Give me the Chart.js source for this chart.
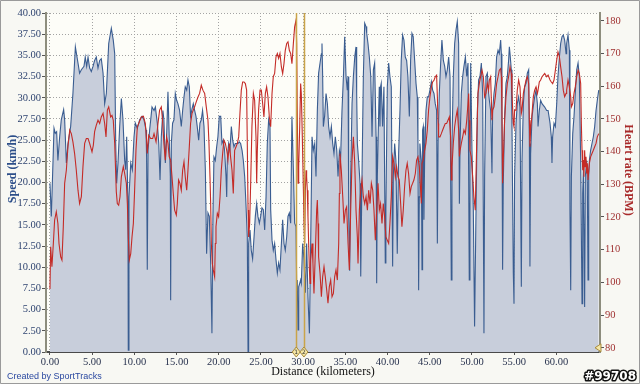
<!DOCTYPE html>
<html>
<head>
<meta charset="utf-8">
<script src="https://cdn.jsdelivr.net/npm/chart.js@4"></script>
<style>
html, body { margin: 0; padding: 0; background: #ffffff; }
#wrap { width: 640px; height: 384px; }
</style>
</head>
<body>
<div id="wrap"><canvas id="trackChart" width="640" height="384"></canvas></div>
<script>
// speed track (distance in km, speed in km/h)
var speedKm = [0, 0.16, 0.48, 0.63, 0.79, 0.94, 1.15, 1.34, 1.62, 1.74, 1.94, 2.13, 2.45, 2.72, 3.01, 3.32, 3.51, 3.72, 4.03, 4.18,
  4.35, 4.51, 4.70, 4.90, 5.10, 5.29, 5.49, 5.69, 5.89, 6.08, 6.29, 6.48, 6.68, 6.96, 7.27, 7.50, 7.67, 7.79, 7.90, 8.06,
  8.26, 8.46, 8.65, 8.85, 8.97, 9.09, 9.24, 9.28, 9.36, 9.57, 9.76, 9.96, 10.11, 10.35, 10.63, 10.91, 11.14, 11.38, 11.45, 11.53,
  11.62, 11.81, 12.09, 12.33, 12.49, 12.72, 12.89, 13.04, 13.19, 13.38, 13.50, 13.67, 13.82, 13.98, 14.13, 14.26, 14.30, 14.38, 14.53, 14.69,
  14.85, 15.01, 15.16, 15.36, 15.56, 15.72, 15.88, 16.03, 16.20, 16.35, 16.51, 16.66, 16.83, 16.98, 17.14, 17.30, 17.45, 17.62, 17.77, 17.93,
  18.08, 18.25, 18.41, 18.56, 18.72, 18.88, 19.04, 19.19, 19.31, 19.43, 19.59, 19.75, 19.90, 20.06, 20.23, 20.38, 20.54, 20.69, 20.86, 20.94,
  21.01, 21.17, 21.32, 21.49, 21.65, 21.80, 21.96, 22.12, 22.28, 22.43, 22.59, 22.76, 22.91, 23.07, 23.22, 23.38, 23.47, 23.54, 23.70, 23.85,
  24.01, 24.18, 24.33, 24.49, 24.64, 24.81, 24.96, 25.12, 25.28, 25.44, 25.60, 25.75, 25.91, 26.07, 26.15, 26.31, 26.46, 26.62, 26.78, 26.94,
  27.09, 27.25, 27.42, 27.57, 27.73, 27.88, 28.05, 28.20, 28.36, 28.52, 28.67, 28.84, 28.99, 29.15, 29.23, 29.30, 29.39, 29.47, 29.59, 29.70,
  29.78, 29.94, 30.10, 30.26, 30.41, 30.57, 30.74, 30.89, 31.05, 31.20, 31.37, 31.52, 31.68, 31.83, 32.00, 32.16, 32.23, 32.31, 32.39, 32.54,
  32.71, 32.87, 33.02, 33.18, 33.34, 33.50, 33.65, 33.81, 33.98, 34.13, 34.29, 34.44, 34.60, 34.77, 34.92, 35.08, 35.23, 35.32, 35.40, 35.51,
  35.63, 35.79, 35.95, 36.11, 36.26, 36.34, 36.42, 36.57, 36.74, 36.82, 36.97, 37.13, 37.29, 37.45, 37.53, 37.68, 37.84, 38.01, 38.16, 38.32,
  38.47, 38.64, 38.71, 38.79, 38.95, 39.02, 39.10, 39.17, 39.25, 39.41, 39.57, 39.73, 39.80, 39.97, 40.13, 40.28, 40.44, 40.60, 40.68, 40.84,
  40.99, 41.15, 41.31, 41.47, 41.62, 41.78, 41.94, 42.10, 42.26, 42.41, 42.58, 42.73, 42.89, 43.04, 43.21, 43.37, 43.52, 43.60, 43.68, 43.76,
  43.83, 44.00, 44.08, 44.15, 44.23, 44.31, 44.39, 44.55, 44.71, 44.86, 45.02, 45.19, 45.34, 45.50, 45.65, 45.81, 45.90, 45.98, 46.13, 46.29,
  46.44, 46.61, 46.77, 46.92, 47.08, 47.24, 47.40, 47.55, 47.63, 47.79, 47.95, 48.11, 48.26, 48.42, 48.51, 48.59, 48.74, 48.90, 49.05, 49.22,
  49.38, 49.53, 49.68, 49.76, 49.85, 50.00, 50.16, 50.31, 50.48, 50.64, 50.79, 50.95, 51.11, 51.27, 51.42, 51.50, 51.66, 51.82, 51.98, 52.06,
  52.21, 52.37, 52.45, 52.61, 52.77, 52.92, 53.09, 53.24, 53.40, 53.48, 53.55, 53.63, 53.71, 53.87, 54.03, 54.19, 54.34, 54.43, 54.51, 54.66,
  54.74, 54.90, 54.98, 55.05, 55.22, 55.37, 55.53, 55.69, 55.85, 55.93, 56.09, 56.24, 56.41, 56.56, 56.72, 56.80, 56.87, 56.95, 57.12, 57.27,
  57.43, 57.59, 57.75, 57.83, 57.98, 58.14, 58.30, 58.46, 58.62, 58.85, 59.02, 59.25, 59.40, 59.48, 59.56, 59.72, 59.88, 60.04, 60.19, 60.36,
  60.51, 60.67, 60.82, 60.98, 61.15, 61.22, 61.38, 61.54, 61.61, 61.70, 61.78, 61.94, 62.09, 62.24, 62.41, 62.57, 62.72, 62.88, 63.04, 63.12,
  63.20, 63.35, 63.43, 63.59, 63.67, 63.75, 63.83, 63.91, 64.06, 64.22, 64.38, 64.54, 64.70, 64.85, 65.02];
var speedKmh = [19.9, 16.0, 26.4, 25.8, 26.0, 22.6, 25.4, 27.4, 28.6, 27.4, 22.3, 24.6, 26.6, 30.5, 36.0, 34.1, 32.9, 33.3, 33.7, 34.8,
  33.7, 34.8, 33.5, 33.1, 33.7, 34.4, 34.8, 33.5, 34.4, 34.6, 32.9, 29.3, 30.5, 36.4, 38.2, 36.8, 35.2, 24.6, 19.9, 22.3,
  26.6, 29.9, 27.4, 22.6, 21.5, 25.4, 17.1, 0.2, 18.3, 22.3, 21.5, 25.4, 27.0, 26.4, 27.4, 27.8, 27.4, 26.2, 23.0, 9.7,
  23.8, 26.2, 28.9, 28.5, 28.9, 27.0, 24.6, 20.3, 25.4, 28.5, 27.4, 22.3, 25.4, 30.7, 25.4, 20.7, 6.1, 24.6, 27.0, 27.4,
  30.5, 29.7, 29.3, 28.5, 26.6, 28.5, 30.1, 31.3, 30.9, 32.1, 31.3, 27.8, 28.7, 29.3, 28.5, 27.8, 26.6, 25.0, 27.0, 27.4,
  28.5, 26.6, 21.5, 11.6, 16.4, 16.0, 10.5, 2.2, 16.0, 23.0, 22.6, 24.2, 25.4, 27.8, 27.8, 24.6, 25.0, 23.8, 20.7, 18.3,
  23.0, 24.6, 23.8, 26.6, 25.0, 24.2, 24.6, 24.6, 24.6, 24.8, 24.6, 23.8, 22.6, 20.7, 17.5, 13.6, 0, 12.8, 14.4, 12.0,
  11.0, 13.6, 16.0, 17.5, 16.0, 15.2, 16.0, 17.0, 16.8, 14.4, 18.3, 24.6, 27.4, 26.6, 16.8, 13.2, 12.0, 12.8, 10.9, 9.3,
  10.5, 9.7, 12.8, 15.6, 12.8, 12.0, 13.6, 16.0, 16.4, 15.2, 27.8, 21.5, 15.2, 14.8, 8.1, 8.5, 2.6, 7.7, 8.1, 8.5,
  8.1, 12.8, 10.9, 7.0, 12.8, 6.5, 2.2, 12.8, 25.4, 23.8, 24.6, 20.7, 28.5, 32.9, 34.1, 35.2, 36.4, 32.5, 26.6, 27.8,
  30.5, 29.3, 26.6, 25.4, 26.6, 24.6, 23.4, 25.4, 23.8, 20.7, 23.8, 23.0, 28.5, 32.5, 37.2, 32.5, 30.9, 32.5, 15.9, 9.6,
  20.7, 29.3, 32.5, 34.8, 36.0, 30.5, 24.6, 22.6, 19.9, 8.9, 20.7, 32.5, 38.8, 38.4, 37.6, 36.4, 34.8, 32.5, 25.4, 33.3,
  34.1, 25.4, 8.1, 20.7, 28.5, 31.3, 26.6, 31.3, 31.7, 26.6, 31.3, 10.5, 16.8, 31.3, 34.1, 32.5, 31.3, 10.1, 20.7, 24.6,
  22.6, 11.6, 23.4, 28.5, 34.4, 37.4, 36.8, 34.8, 34.4, 32.5, 27.8, 34.4, 37.6, 37.2, 34.4, 31.7, 30.1, 24.6, 7.3, 18.3,
  24.6, 22.6, 9.7, 26.2, 26.6, 15.6, 22.6, 28.5, 30.1, 30.1, 30.9, 31.9, 30.9, 30.5, 29.3, 28.5, 12.8, 24.6, 30.5, 34.1,
  36.8, 34.4, 33.7, 32.5, 33.3, 34.8, 32.5, 8.5, 24.6, 32.5, 36.4, 38.0, 39.0, 36.4, 17.5, 24.6, 30.5, 32.5, 33.7, 34.8,
  32.5, 34.1, 8.5, 23.8, 34.1, 23.8, 16.8, 3.0, 16.8, 28.5, 32.1, 32.5, 34.1, 30.5, 2.2, 20.7, 32.5, 32.9, 30.5, 29.7,
  28.5, 21.1, 28.5, 30.5, 31.7, 34.8, 35.6, 35.2, 36.8, 35.2, 28.5, 9.7, 19.9, 27.8, 31.7, 32.5, 34.4, 36.0, 35.2, 33.3,
  26.6, 9.3, 5.7, 20.7, 27.0, 29.3, 30.1, 28.9, 7.7, 22.6, 29.3, 31.3, 31.7, 32.9, 33.3, 24.6, 10.1, 23.4, 27.8, 29.0,
  30.1, 30.9, 29.3, 26.6, 28.5, 29.7, 29.3, 29.1, 28.9, 28.5, 28.5, 27.0, 25.4, 22.3, 25.4, 27.0, 26.6, 29.3, 32.5, 34.8,
  36.4, 37.2, 37.4, 36.8, 35.2, 36.4, 37.4, 35.6, 16.8, 7.3, 20.7, 25.8, 27.8, 30.5, 33.3, 34.1, 32.5, 22.6, 5.7, 18.7,
  21.5, 5.3, 20.7, 22.6, 19.9, 8.5, 20.7, 22.6, 23.8, 24.6, 25.4, 26.6, 28.5, 29.7, 30.9];

// heart rate track (distance in km, beats per minute)
var hrKm = [0, 0.08, 0.23, 0.40, 0.55, 0.75, 0.94, 1.07, 1.27, 1.42, 1.58, 1.74, 1.94, 2.13, 2.34, 2.53, 2.72, 2.92, 3.12, 3.32,
  3.51, 3.72, 3.91, 4.11, 4.31, 4.51, 4.70, 4.98, 5.14, 5.29, 5.49, 5.69, 5.89, 6.08, 6.29, 6.48, 6.64, 6.80, 6.96, 7.19,
  7.35, 7.50, 7.67, 7.86, 7.98, 8.14, 8.30, 8.46, 8.69, 8.85, 9.05, 9.17, 9.28, 9.40, 9.57, 9.72, 9.88, 10.03, 10.19, 10.35,
  10.59, 10.82, 11.07, 11.30, 11.45, 11.53, 11.70, 11.93, 12.17, 12.33, 12.57, 12.80, 12.99, 13.19, 13.34, 13.50, 13.67, 13.82, 13.98, 14.13,
  14.30, 14.46, 14.61, 14.77, 14.97, 15.09, 15.24, 15.40, 15.56, 15.72, 15.88, 16.03, 16.20, 16.35, 16.51, 16.66, 16.83, 16.98, 17.14, 17.33,
  17.54, 17.73, 17.93, 18.12, 18.33, 18.52, 18.72, 18.84, 18.96, 19.04, 19.12, 19.23, 19.35, 19.51, 19.59, 19.67, 19.83, 19.98, 20.15, 20.30,
  20.46, 20.61, 20.78, 20.94, 21.09, 21.25, 21.40, 21.57, 21.72, 21.88, 22.05, 22.20, 22.36, 22.51, 22.67, 22.83, 22.99, 23.15, 23.30, 23.38,
  23.47, 23.54, 23.66, 23.78, 23.93, 24.10, 24.25, 24.41, 24.49, 24.57, 24.72, 24.89, 25.04, 25.20, 25.35, 25.52, 25.67, 25.83, 25.99, 26.15,
  26.31, 26.46, 26.62, 26.78, 26.94, 27.09, 27.25, 27.42, 27.57, 27.73, 27.88, 28.05, 28.20, 28.36, 28.52, 28.67, 28.84, 28.99, 29.15, 29.23,
  29.30, 29.39, 29.47, 29.59, 29.70, 29.78, 29.90, 30.02, 30.10, 30.18, 30.26, 30.34, 30.41, 30.49, 30.57, 30.65, 30.74, 30.82, 30.89, 31.05,
  31.16, 31.28, 31.45, 31.60, 31.68, 31.76, 31.83, 32.00, 32.16, 32.31, 32.47, 32.62, 32.79, 32.94, 33.10, 33.26, 33.42, 33.58, 33.73, 33.89,
  34.05, 34.21, 34.29, 34.36, 34.52, 34.69, 34.84, 35.00, 35.15, 35.32, 35.47, 35.63, 35.79, 35.95, 36.11, 36.26, 36.42, 36.50, 36.66, 36.82,
  36.97, 37.13, 37.29, 37.45, 37.61, 37.76, 37.93, 38.08, 38.24, 38.39, 38.55, 38.71, 38.87, 39.02, 39.17, 39.34, 39.49, 39.65, 39.80, 39.97,
  40.13, 40.28, 40.44, 40.60, 40.76, 40.92, 41.07, 41.24, 41.39, 41.55, 41.70, 41.86, 42.02, 42.18, 42.33, 42.49, 42.66, 42.81, 42.97, 43.12,
  43.29, 43.44, 43.60, 43.76, 43.92, 44.00, 44.08, 44.23, 44.39, 44.55, 44.71, 44.86, 45.02, 45.19, 45.34, 45.50, 45.65, 45.81, 45.90, 45.98,
  46.05, 46.21, 46.37, 46.53, 46.68, 46.84, 47.00, 47.16, 47.32, 47.47, 47.55, 47.63, 47.79, 47.95, 48.11, 48.26, 48.42, 48.51, 48.59, 48.74,
  48.90, 49.05, 49.22, 49.38, 49.53, 49.61, 49.68, 49.76, 49.92, 50.08, 50.23, 50.39, 50.56, 50.71, 50.87, 51.02, 51.19, 51.35, 51.50, 51.66,
  51.82, 51.98, 52.06, 52.21, 52.37, 52.45, 52.61, 52.77, 52.92, 53.09, 53.24, 53.40, 53.48, 53.55, 53.63, 53.71, 53.87, 54.03, 54.19, 54.34,
  54.51, 54.66, 54.74, 54.90, 54.98, 55.05, 55.22, 55.37, 55.53, 55.69, 55.85, 55.93, 56.09, 56.24, 56.41, 56.56, 56.72, 56.80, 56.87, 56.95,
  57.12, 57.27, 57.43, 57.59, 57.75, 57.83, 57.98, 58.14, 58.30, 58.46, 58.62, 58.85, 59.02, 59.25, 59.40, 59.56, 59.72, 59.88, 60.04, 60.19,
  60.36, 60.51, 60.67, 60.82, 60.98, 61.15, 61.22, 61.38, 61.54, 61.70, 61.78, 61.94, 62.09, 62.24, 62.41, 62.57, 62.72, 62.88, 62.96, 63.04,
  63.12, 63.20, 63.27, 63.35, 63.43, 63.51, 63.59, 63.67, 63.75, 63.91, 64.06, 64.22, 64.38, 64.54, 64.70, 64.85, 65.02];
var hrBpm = [98, 110.9, 104.8, 111.9, 119.0, 121.6, 118.0, 111.9, 107.8, 106.8, 117.0, 130.3, 134.3, 141.5, 146.6, 145.5, 143.0, 139.4, 134.3, 128.2,
  124.1, 126.2, 135.4, 142.5, 144.0, 144.0, 142.5, 139.9, 142.0, 146.1, 148.1, 149.6, 148.6, 150.6, 151.7, 148.6, 144.5, 152.7, 153.7, 150.6,
  151.1, 149.6, 142.5, 127.7, 124.1, 123.6, 126.2, 132.3, 135.4, 133.3, 130.3, 124.1, 113.9, 106.8, 108.8, 113.9, 118.0, 128.2, 140.4, 147.6,
  149.1, 150.6, 150.8, 148.6, 143.5, 139.4, 145.0, 144.0, 144.0, 145.5, 143.0, 148.6, 152.7, 153.7, 149.6, 142.5, 137.4, 144.5, 142.5, 138.4,
  137.4, 132.3, 127.2, 122.1, 120.6, 124.1, 131.3, 130.3, 128.2, 134.3, 136.9, 132.3, 128.2, 134.3, 141.5, 148.6, 151.7, 152.7, 153.7, 155.2,
  156.7, 157.8, 160.3, 158.8, 157.8, 153.7, 149.6, 142.5, 132.3, 124.1, 111.9, 105.8, 103.8, 101.7, 111.9, 117.0, 121.1, 120.1, 126.2, 134.3,
  139.4, 143.5, 142.5, 140.4, 137.4, 142.5, 138.4, 134.3, 127.2, 140.4, 141.5, 142.5, 144.5, 151.7, 158.8, 161.3, 161.3, 160.8, 158.8, 142.5,
  122.1, 113.9, 118.0, 130.3, 147.6, 157.8, 155.7, 144.5, 130.3, 140.4, 152.7, 158.8, 158.8, 154.7, 150.6, 157.8, 159.8, 156.7, 150.6, 147.6,
  157.8, 162.9, 163.9, 169.0, 170.0, 168.5, 170.0, 165.9, 163.9, 167.0, 171.0, 173.1, 173.6, 171.0, 170.0, 166.9, 173.1, 178.2, 180.2, 173.1,
  152.7, 130.3, 135.4, 147.6, 160.8, 157.8, 144.5, 129.3, 118.0, 111.9, 128.2, 134.3, 132.3, 128.2, 120.1, 111.9, 103.8, 99.7, 106.8, 111.9,
  105.8, 96.6, 109.8, 122.1, 125.2, 118.0, 107.8, 102.7, 95.6, 101.7, 104.8, 101.7, 97.6, 93.6, 98.7, 100.7, 95.6, 96.6, 101.7, 103.8,
  100.7, 111.9, 127.2, 139.4, 134.3, 126.2, 118.0, 122.1, 123.1, 111.9, 103.8, 122.1, 137.4, 144.5, 136.4, 122.1, 113.9, 105.8, 122.1, 128.2,
  131.3, 126.2, 124.1, 126.2, 122.1, 128.2, 124.1, 130.3, 128.2, 122.1, 112.9, 122.1, 130.3, 122.1, 124.1, 118.0, 124.1, 120.1, 113.9, 112.9,
  111.9, 118.0, 126.2, 138.5, 136.4, 132.3, 135.4, 132.3, 131.3, 124.1, 117.0, 122.1, 129.3, 134.3, 136.4, 133.3, 127.2, 129.3, 130.3, 131.3,
  133.3, 137.4, 138.4, 135.4, 128.2, 124.1, 136.4, 137.4, 140.4, 142.5, 146.6, 152.7, 156.7, 159.8, 161.3, 161.8, 162.9, 163.4, 156.7, 148.6,
  144.5, 144.5, 145.5, 146.6, 147.6, 148.6, 148.6, 149.6, 150.6, 144.5, 131.3, 135.4, 142.5, 147.6, 150.6, 152.7, 146.6, 138.5, 140.4, 142.5,
  144.5, 146.6, 145.5, 149.6, 154.7, 157.8, 149.6, 140.4, 138.4, 132.3, 126.2, 122.1, 142.5, 157.8, 160.8, 162.9, 164.9, 162.9, 156.7, 157.8,
  160.8, 158.8, 161.9, 162.9, 149.6, 152.7, 153.7, 156.8, 160.8, 162.9, 164.9, 165.4, 162.9, 152.7, 130.3, 137.4, 149.6, 156.8, 160.8, 162.9,
  165.9, 163.9, 157.8, 148.6, 147.6, 152.7, 152.7, 158.8, 161.9, 159.8, 151.7, 152.7, 157.8, 159.8, 161.9, 162.9, 160.8, 149.6, 141.5, 146.6,
  151.7, 156.8, 158.8, 159.8, 157.8, 158.8, 161.3, 161.9, 162.9, 163.4, 163.9, 162.9, 163.4, 161.9, 161.3, 160.8, 161.9, 164.9, 168.0, 170.5,
  169.0, 165.9, 162.9, 158.8, 156.8, 157.8, 158.8, 161.9, 159.8, 156.8, 153.7, 154.7, 157.8, 159.8, 162.9, 164.9, 163.9, 160.8, 148.6, 140.4,
  134.3, 137.4, 132.3, 140.4, 135.4, 138.4, 133.3, 136.4, 131.3, 136.4, 138.4, 139.4, 140.4, 141.5, 142.5, 144.5, 145.5];

var distTicks = [0, 5, 10, 15, 20, 25, 30, 35, 40, 45, 50, 55, 60];
var speedTicks = [0, 2.5, 5, 7.5, 10, 12.5, 15, 17.5, 20, 22.5, 25, 27.5, 30, 32.5, 35, 37.5, 40];
var hrTicks = [80, 90, 100, 110, 120, 130, 140, 150, 160, 170, 180];
var lapKm = [29.18, 30.09];

var serif = '"Liberation Serif", "Times New Roman", serif';

// background, frame, lap markers and the extra captions
var decor = {
    id: 'decor',
    beforeDraw: function (chart) {
        var ctx = chart.ctx, a = chart.chartArea;
        ctx.save();
        ctx.fillStyle = '#f8f8f3';
        ctx.fillRect(0, 0, chart.width, chart.height);
        ctx.fillStyle = '#fdfdf8';
        ctx.fillRect(a.left, a.top, a.right - a.left, a.bottom - a.top);
        ctx.restore();
    },
    afterDatasetsDraw: function (chart) {
        var ctx = chart.ctx, a = chart.chartArea, xs = chart.scales.x;
        ctx.save();
        ctx.strokeStyle = '#c9a449';
        ctx.lineWidth = 1.5;
        lapKm.forEach(function (km, i) {
            var px = Math.round(xs.getPixelForValue(km)) + 0.5;
            ctx.beginPath();
            ctx.moveTo(px, a.top);
            ctx.lineTo(px, a.bottom);
            ctx.stroke();
        });
        ctx.restore();
    },
    afterDraw: function (chart) {
        var ctx = chart.ctx, a = chart.chartArea, xs = chart.scales.x, y1 = chart.scales.y1;
        ctx.save();
        // lap diamonds
        lapKm.forEach(function (km, i) {
            var px = xs.getPixelForValue(km), py = a.bottom;
            ctx.beginPath();
            ctx.moveTo(px, py - 5); ctx.lineTo(px + 4, py); ctx.lineTo(px, py + 5); ctx.lineTo(px - 4, py); ctx.closePath();
            ctx.fillStyle = '#f4e6a6'; ctx.fill();
            ctx.strokeStyle = '#a88a3a'; ctx.lineWidth = 1; ctx.stroke();
            ctx.fillStyle = '#333';
            ctx.font = '6px "DejaVu Sans"';
            ctx.textAlign = 'center'; ctx.textBaseline = 'middle';
            ctx.fillText(String(i + 1), px, py + 0.5);
        });
        // end marker on the right axis
        var ex = a.right, ey = y1.getPixelForValue(80);
        ctx.beginPath();
        ctx.moveTo(ex - 5, ey); ctx.lineTo(ex + 1, ey - 4); ctx.lineTo(ex + 1, ey + 4); ctx.closePath();
        ctx.fillStyle = '#f4e6a6'; ctx.fill();
        ctx.strokeStyle = '#a88a3a'; ctx.stroke();

        // vertical axis titles
        ctx.font = 'bold 12px ' + serif;
        ctx.textAlign = 'center'; ctx.textBaseline = 'middle';
        ctx.save();
        ctx.translate(13, 169);
        ctx.rotate(-Math.PI / 2);
        ctx.fillStyle = '#2d4f8a';
        ctx.fillText('Speed (km/h)', 0, 0);
        ctx.restore();
        ctx.save();
        ctx.translate(628, 170);
        ctx.rotate(Math.PI / 2);
        ctx.fillStyle = '#a82a2a';
        ctx.fillText('Heart rate (BPM)', 0, 0);
        ctx.restore();

        // credit and id
        ctx.font = '9px "Liberation Sans", Arial, sans-serif';
        ctx.textAlign = 'left';
        ctx.fillStyle = '#2a48a0';
        ctx.fillText('Created by SportTracks', 7, 377);
        ctx.font = 'bold 12px "DejaVu Sans", sans-serif';
        ctx.textAlign = 'right';
        ctx.lineWidth = 3;
        ctx.lineJoin = 'round';
        ctx.strokeStyle = '#111';
        ctx.strokeText('#99708', 636, 377);
        ctx.fillStyle = '#ffffff';
        ctx.fillText('#99708', 636, 377);

        // outer frame
        ctx.strokeStyle = '#9a9a9a';
        ctx.lineWidth = 1;
        ctx.strokeRect(0.5, 0.5, chart.width - 1, chart.height - 1);
        ctx.restore();
    }
};

var ctx = document.getElementById('trackChart').getContext('2d');
var trackChart = new Chart(ctx, {
    type: 'line',
    data: {
        datasets: [{
            label: 'Heart rate',
            data: hrKm.map(function (d, i) { return { x: d, y: hrBpm[i] }; }),
            yAxisID: 'y1',
            borderColor: '#c42b27',
            borderWidth: 1.1,
            pointRadius: 0,
            fill: false,
            tension: 0,
            order: 0
        }, {
            label: 'Speed',
            data: speedKm.map(function (d, i) { return { x: d, y: speedKmh[i] }; }),
            yAxisID: 'y',
            borderColor: '#3a5d91',
            backgroundColor: '#c8cedb',
            borderWidth: 1.1,
            pointRadius: 0,
            fill: 'origin',
            tension: 0,
            order: 1
        }]
    },
    options: {
        responsive: false,
        animation: false,
        events: [],
        layout: { padding: { top: 13, left: 0, right: 0, bottom: 0 } },
        plugins: { legend: { display: false }, tooltip: { enabled: false } },
        scales: {
            x: {
                type: 'linear',
                min: -0.47,
                max: 65.17,
                afterBuildTicks: function (scale) { scale.ticks = distTicks.map(function (v) { return { value: v }; }); },
                afterFit: function (scale) { scale.height = 32; },
                ticks: {
                    autoSkip: false, maxRotation: 0, padding: 1,
                    color: '#28324e',
                    font: { family: serif, size: 10.5 },
                    callback: function (v) { return Number(v).toFixed(2); }
                },
                grid: { color: '#a3a3a3', tickLength: 3, tickColor: '#555' },
                border: { color: '#4a4a4a', width: 2, dash: [1, 2] },
                title: {
                    display: true, text: 'Distance (kilometers)', color: '#111',
                    font: { family: serif, size: 12 }, padding: { top: 0, bottom: 5 }
                }
            },
            y: {
                position: 'left',
                min: 0,
                max: 40,
                afterBuildTicks: function (scale) { scale.ticks = speedTicks.map(function (v) { return { value: v }; }); },
                afterFit: function (scale) { scale.width = 46; },
                ticks: {
                    padding: 1, color: '#2f4470',
                    font: { family: serif, size: 10.5 },
                    callback: function (v) { return Number(v).toFixed(2); }
                },
                grid: { color: '#a3a3a3', tickLength: 4, tickColor: '#555' },
                border: { color: '#8d8d7d', width: 2, dash: [1, 2] }
            },
            y1: {
                position: 'right',
                min: 78.7,
                max: 182.4,
                afterBuildTicks: function (scale) { scale.ticks = hrTicks.map(function (v) { return { value: v }; }); },
                afterFit: function (scale) { scale.width = 40; },
                ticks: {
                    padding: 1, color: '#a03232',
                    font: { family: serif, size: 10.5 }
                },
                grid: { drawOnChartArea: false, tickLength: 4, tickColor: '#555' },
                border: { color: '#8d8d7d', width: 2 }
            }
        }
    },
    plugins: [decor]
});
</script>
</body>
</html>
